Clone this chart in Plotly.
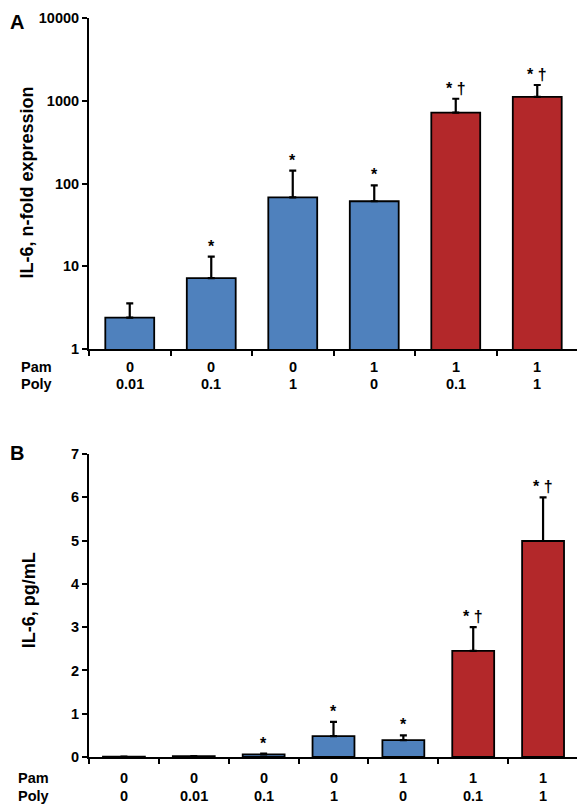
import math
import plotly.graph_objects as go

# Panel A data
a_cats = ["c1", "c2", "c3", "c4", "c5", "c6"]
a_pam = ["0", "0", "0", "1", "1", "1"]
a_poly = ["0.01", "0.1", "1", "0", "0.1", "1"]
a_vals = [2.4, 7.2, 68, 61, 720, 1115]
a_err = [1.15, 5.9, 75, 34, 337, 435]
a_sig = ["", "*", "*", "*", "* †", "* †"]
a_colors = ["#4F81BD", "#4F81BD", "#4F81BD", "#4F81BD", "#B3282A", "#B3282A"]
a_ticks = [1, 10, 100, 1000, 10000]

# Panel B data
b_cats = ["d1", "d2", "d3", "d4", "d5", "d6", "d7"]
b_pam = ["0", "0", "0", "0", "1", "1", "1"]
b_poly = ["0", "0.01", "0.1", "1", "0", "0.1", "1"]
b_vals = [0.01, 0.02, 0.06, 0.48, 0.39, 2.45, 4.99]
b_err = [0.0, 0.0, 0.02, 0.33, 0.11, 0.55, 1.01]
b_sig = ["", "", "*", "*", "*", "* †", "* †"]
b_colors = ["#4F81BD", "#4F81BD", "#4F81BD", "#4F81BD", "#4F81BD", "#B3282A", "#B3282A"]
b_ticks = [0, 1, 2, 3, 4, 5, 6, 7]

FONT = "Liberation Sans, Arial, sans-serif"
TICKFONT = dict(family=FONT, size=14.5, color="black")
SIGFONT = dict(family=FONT, size=16, color="black")
TITLEFONT = dict(family=FONT, size=18, color="black")

fig = go.Figure()

fig.add_trace(go.Bar(
    x=a_cats, y=a_vals, width=0.6,
    marker=dict(color=a_colors, line=dict(color="black", width=1.8)),
    error_y=dict(type="data", array=a_err, arrayminus=[0] * len(a_err), symmetric=False,
                 color="black", thickness=2.2, width=3.5),
    xaxis="x", yaxis="y", showlegend=False,
))
fig.add_trace(go.Bar(
    x=b_cats, y=b_vals, width=0.6,
    marker=dict(color=b_colors, line=dict(color="black", width=1.8)),
    error_y=dict(type="data", array=b_err, arrayminus=[0] * len(b_err), symmetric=False,
                 color="black", thickness=2.2, width=3.5),
    xaxis="x2", yaxis="y2", showlegend=False,
))

annotations = []
for c, v, e, s in zip(a_cats, a_vals, a_err, a_sig):
    if s:
        annotations.append(dict(x=c, y=math.log10(v + e), xref="x", yref="y", text=f"<b>{s}</b>",
                                showarrow=False, yanchor="bottom", yshift=0, font=SIGFONT))
for c, v, e, s in zip(b_cats, b_vals, b_err, b_sig):
    if s:
        annotations.append(dict(x=c, y=v + e, xref="x2", yref="y2", text=f"<b>{s}</b>",
                                showarrow=False, yanchor="bottom", yshift=0, font=SIGFONT))

# Category label rows (Pam / Poly)
def add_rows(cats, pam, poly, xr, yr, s1, s2, xrow):
    for c, p, q in zip(cats, pam, poly):
        annotations.append(dict(x=c, y=0, xref=xr, yref=yr, text=f"<b>{p}</b>", showarrow=False,
                                yanchor="middle", yshift=s1, font=TICKFONT))
        annotations.append(dict(x=c, y=0, xref=xr, yref=yr, text=f"<b>{q}</b>", showarrow=False,
                                yanchor="middle", yshift=s2, font=TICKFONT))
    annotations.append(dict(x=xrow, y=0, xref="paper", yref=yr, text="<b>Pam</b>", showarrow=False,
                            xanchor="left", yanchor="middle", yshift=s1, font=TICKFONT))
    annotations.append(dict(x=xrow, y=0, xref="paper", yref=yr, text="<b>Poly</b>", showarrow=False,
                            xanchor="left", yanchor="middle", yshift=s2, font=TICKFONT))

add_rows(a_cats, a_pam, a_poly, "x", "y domain", -18, -35, -0.143)
add_rows(b_cats, b_pam, b_poly, "x2", "y2 domain", -21, -39, -0.149)

# Axis titles (aligned for both panels)
annotations.append(dict(x=-0.126, y=0.778, xref="paper", yref="paper",
                        text="<b>IL-6, n-fold expression</b>", textangle=-90, showarrow=False,
                        xanchor="center", yanchor="middle", font=TITLEFONT))
annotations.append(dict(x=-0.122, y=0.2125, xref="paper", yref="paper",
                        text="<b>IL-6, pg/mL</b>", textangle=-90, showarrow=False,
                        xanchor="center", yanchor="middle", font=TITLEFONT))

# Panel letters
annotations.append(dict(x=-0.166, y=1.0, xref="paper", yref="paper", text="<b>A</b>", showarrow=False,
                        xanchor="left", yanchor="top", yshift=9,
                        font=dict(family=FONT, size=20, color="black")))
annotations.append(dict(x=-0.166, y=0.41, xref="paper", yref="paper", text="<b>B</b>", showarrow=False,
                        xanchor="left", yanchor="middle", yshift=1,
                        font=dict(family=FONT, size=20, color="black")))

axis_common = dict(ticks="outside", ticklen=5, tickwidth=1.8, tickcolor="black",
                   showline=True, linecolor="black", linewidth=2, showgrid=False,
                   tickfont=TICKFONT, automargin=False)

fig.update_layout(
    width=577, height=799,
    margin=dict(l=81, r=7, t=10, b=50),
    plot_bgcolor="white", paper_bgcolor="white",
    bargap=0.4,
    xaxis=dict(domain=[0, 1], anchor="y", type="category", tickson="boundaries",
               categoryorder="array", categoryarray=a_cats, showticklabels=False,
               **axis_common),
    yaxis=dict(domain=[0.5521, 1], anchor="x", type="log", range=[0, 4],
               tickvals=a_ticks, ticktext=[f"<b>{t}</b>" for t in a_ticks],
               ticklabeloverflow="allow",
               **axis_common),
    xaxis2=dict(domain=[0, 1], anchor="y2", type="category", tickson="boundaries",
                categoryorder="array", categoryarray=b_cats, showticklabels=False,
                **axis_common),
    yaxis2=dict(domain=[0, 0.41], anchor="x2", range=[0, 7], zeroline=False,
                tickvals=b_ticks, ticktext=[f"<b>{t}</b>" for t in b_ticks],
                ticklabeloverflow="allow",
                **axis_common),
    annotations=annotations,
)

fig.write_html("out.html")
